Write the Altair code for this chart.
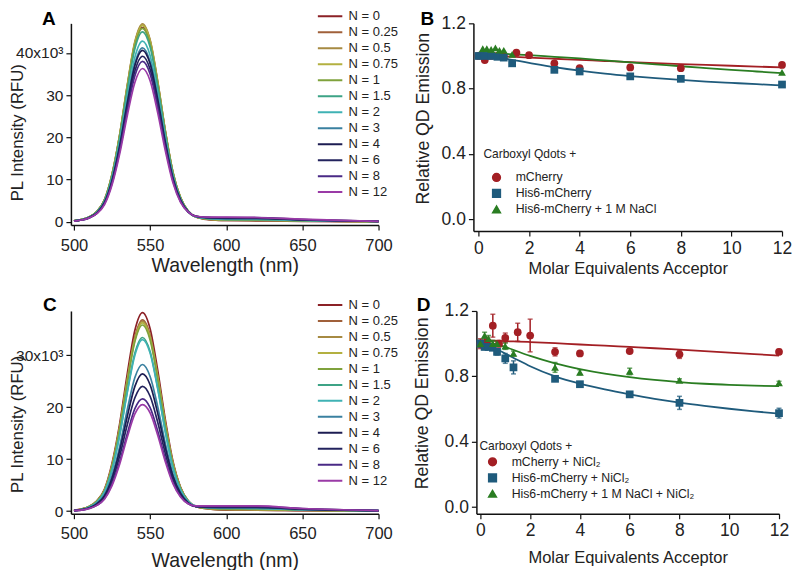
import altair as alt
import pandas as pd

FONT = "Liberation Sans"

# ---------------- spectra (panels A and C), intensities in units of 10^3 RFU
wavelength = [500, 505, 510, 515, 520, 525, 530, 535, 540, 545, 550, 555,
              560, 565, 570, 575, 580, 590, 600, 620, 650, 700]
n_labels = ["N = 0", "N = 0.25", "N = 0.5", "N = 0.75", "N = 1", "N = 1.5",
            "N = 2", "N = 3", "N = 4", "N = 6", "N = 8", "N = 12"]
spec_colors = ["#8b2126", "#a0603a", "#a68a42", "#b3b040", "#7fa23c", "#3da386",
               "#3fb2b4", "#3a80a0", "#1c1c52", "#23235e", "#4a2a86", "#9a3aa6"]

a_n0 = [0.2, 0.5, 1.1, 2.4, 5.1, 11.0, 20.2, 31.7, 41.9, 46.0, 42.3, 32.7, 21.2, 11.5, 5.6, 2.4, 1.1, 0.4, 0.3, 0.2, 0.1, 0.0]
a_n025 = [0.2, 0.5, 1.1, 2.4, 5.1, 11.2, 20.5, 32.2, 42.4, 46.6, 42.9, 33.1, 21.5, 11.7, 5.7, 2.5, 1.1, 0.5, 0.3, 0.3, 0.2, 0.0]
a_n05 = [0.2, 0.5, 1.1, 2.4, 5.2, 11.3, 20.6, 32.4, 42.7, 46.9, 43.1, 33.3, 21.6, 11.8, 5.7, 2.5, 1.1, 0.5, 0.4, 0.3, 0.2, 0.0]
a_n075 = [0.2, 0.5, 1.1, 2.4, 5.1, 11.2, 20.5, 32.1, 42.3, 46.5, 42.8, 33.0, 21.4, 11.7, 5.7, 2.5, 1.2, 0.6, 0.4, 0.4, 0.2, 0.0]
a_n1 = [0.2, 0.5, 1.1, 2.4, 5.0, 11.0, 20.2, 31.6, 41.7, 45.8, 42.1, 32.5, 21.1, 11.5, 5.6, 2.5, 1.2, 0.6, 0.5, 0.4, 0.2, 0.0]
a_n15 = [0.2, 0.5, 1.1, 2.3, 5.0, 10.8, 19.8, 31.1, 41.0, 45.0, 41.4, 32.0, 20.8, 11.3, 5.5, 2.5, 1.2, 0.7, 0.5, 0.5, 0.3, 0.1]
a_n2 = [0.2, 0.4, 1.0, 2.2, 4.7, 10.3, 18.8, 29.5, 39.0, 42.8, 39.4, 30.4, 19.8, 10.8, 5.3, 2.4, 1.2, 0.7, 0.6, 0.6, 0.3, 0.1]
a_n3 = [0.2, 0.4, 1.0, 2.1, 4.5, 9.9, 18.1, 28.4, 37.5, 41.2, 37.9, 29.3, 19.0, 10.4, 5.1, 2.3, 1.2, 0.8, 0.7, 0.7, 0.4, 0.1]
a_n4 = [0.2, 0.4, 1.0, 2.1, 4.5, 9.7, 17.9, 28.0, 37.0, 40.6, 37.4, 28.9, 18.8, 10.3, 5.1, 2.4, 1.3, 0.9, 0.8, 0.8, 0.4, 0.1]
a_n6 = [0.2, 0.4, 0.9, 2.0, 4.3, 9.4, 17.2, 27.1, 35.7, 39.2, 36.1, 27.9, 18.1, 9.9, 4.9, 2.3, 1.3, 1.0, 0.9, 0.9, 0.5, 0.1]
a_n8 = [0.2, 0.4, 0.9, 2.0, 4.2, 9.1, 16.7, 26.2, 34.6, 38.0, 35.0, 27.0, 17.6, 9.7, 4.8, 2.3, 1.3, 1.0, 1.0, 1.0, 0.5, 0.1]
a_n12 = [0.1, 0.4, 0.9, 1.9, 4.0, 8.7, 16.0, 25.1, 33.0, 36.3, 33.4, 25.8, 16.8, 9.2, 4.6, 2.3, 1.3, 1.1, 1.1, 1.0, 0.6, 0.1]

c_n0 = [0.2, 0.4, 0.9, 2.0, 4.2, 9.2, 16.8, 26.4, 34.8, 38.2, 35.1, 27.1, 17.6, 9.6, 4.6, 2.0, 0.9, 0.4, 0.2, 0.2, 0.1, 0.0]
c_n025 = [0.1, 0.4, 0.9, 1.9, 4.0, 8.8, 16.2, 25.4, 33.5, 36.8, 33.9, 26.1, 17.0, 9.2, 4.5, 1.9, 0.9, 0.4, 0.3, 0.2, 0.1, 0.0]
c_n05 = [0.1, 0.4, 0.9, 1.9, 4.0, 8.8, 16.1, 25.2, 33.2, 36.5, 33.6, 25.9, 16.8, 9.2, 4.5, 1.9, 0.9, 0.4, 0.3, 0.3, 0.2, 0.0]
c_n075 = [0.1, 0.4, 0.9, 1.9, 4.0, 8.7, 15.9, 25.0, 32.9, 36.2, 33.3, 25.7, 16.7, 9.1, 4.4, 2.0, 0.9, 0.5, 0.4, 0.3, 0.2, 0.0]
c_n1 = [0.1, 0.4, 0.9, 1.9, 3.9, 8.6, 15.8, 24.7, 32.6, 35.8, 32.9, 25.4, 16.5, 9.0, 4.4, 2.0, 0.9, 0.5, 0.4, 0.4, 0.2, 0.0]
c_n15 = [0.1, 0.3, 0.8, 1.7, 3.7, 8.0, 14.7, 23.0, 30.4, 33.4, 30.7, 23.7, 15.4, 8.4, 4.1, 1.9, 0.9, 0.6, 0.5, 0.5, 0.3, 0.1]
c_n2 = [0.1, 0.3, 0.8, 1.7, 3.6, 7.9, 14.5, 22.8, 30.0, 33.0, 30.4, 23.5, 15.2, 8.3, 4.1, 1.9, 1.0, 0.6, 0.6, 0.5, 0.3, 0.1]
c_n3 = [0.1, 0.3, 0.7, 1.5, 3.1, 6.8, 12.4, 19.5, 25.7, 28.2, 25.9, 20.1, 13.0, 7.1, 3.5, 1.7, 0.9, 0.7, 0.6, 0.6, 0.3, 0.1]
c_n4 = [0.1, 0.3, 0.6, 1.4, 2.9, 6.3, 11.6, 18.2, 24.0, 26.4, 24.3, 18.8, 12.2, 6.7, 3.4, 1.6, 0.9, 0.7, 0.7, 0.7, 0.4, 0.1]
c_n6 = [0.1, 0.2, 0.6, 1.2, 2.6, 5.8, 10.6, 16.6, 21.8, 24.0, 22.1, 17.1, 11.1, 6.1, 3.1, 1.5, 0.9, 0.8, 0.8, 0.8, 0.4, 0.1]
c_n8 = [0.1, 0.2, 0.5, 1.1, 2.4, 5.2, 9.5, 14.9, 19.7, 21.6, 19.9, 15.4, 10.0, 5.5, 2.8, 1.4, 0.9, 0.9, 0.9, 0.9, 0.5, 0.1]
c_n12 = [0.1, 0.2, 0.5, 1.1, 2.3, 4.9, 9.0, 14.2, 18.7, 20.5, 18.9, 14.6, 9.5, 5.3, 2.7, 1.4, 1.0, 1.0, 1.0, 1.0, 0.5, 0.1]

spectra_a = [a_n0, a_n025, a_n05, a_n075, a_n1, a_n15, a_n2, a_n3, a_n4, a_n6, a_n8, a_n12]
spectra_c = [c_n0, c_n025, c_n05, c_n075, c_n1, c_n15, c_n2, c_n3, c_n4, c_n6, c_n8, c_n12]

# ---------------- titrations (panels B and D)
series_b = ["mCherry", "His6-mCherry", "His6-mCherry + 1 M NaCl"]
series_d = ["mCherry + NiCl\u2082", "His6-mCherry + NiCl\u2082", "His6-mCherry + 1 M NaCl + NiCl\u2082"]
series_colors = ["#a31f24", "#1f5b7c", "#2a7d22"]
series_shapes = ["circle", "square", "triangle-up"]

b_red_x = [0, 0.25, 0.5, 0.75, 1, 1.5, 2, 3, 4, 6, 8, 12]
b_red_y = [1.0, 0.975, 1.0, 1.0, 0.995, 1.02, 1.005, 0.955, 0.925, 0.93, 0.925, 0.945]
b_blue_x = [0, 0.25, 0.5, 0.75, 1, 1.33, 3, 4, 6, 8, 12]
b_blue_y = [1.0, 1.0, 1.0, 0.995, 0.99, 0.955, 0.915, 0.905, 0.875, 0.86, 0.825]
b_green_x = [0.17, 0.33, 0.5, 0.67, 0.83, 1, 1.33, 12]
b_green_y = [1.045, 1.045, 1.04, 1.05, 1.035, 1.035, 1.01, 0.9]

b_fit_x = [0, 1, 2, 3, 4, 5, 6, 7, 8, 9, 10, 11, 12]
b_red_fit = [1.005, 0.998, 0.99, 0.983, 0.976, 0.969, 0.962, 0.956, 0.95, 0.945, 0.94, 0.935, 0.93]
b_blue_fit = [1.0, 0.985, 0.958, 0.932, 0.91, 0.892, 0.877, 0.864, 0.853, 0.843, 0.835, 0.827, 0.82]
b_green_fit = [1.02, 1.013, 1.005, 0.995, 0.985, 0.973, 0.961, 0.949, 0.937, 0.926, 0.915, 0.905, 0.895]

d_red_x = [0, 0.25, 0.5, 0.75, 1, 1.5, 2, 3, 4, 6, 8, 12]
d_red_y = [1.0, 1.01, 1.11, 1.0, 1.035, 1.07, 1.05, 0.95, 0.94, 0.955, 0.935, 0.95]
d_red_err = [0.03, 0.03, 0.07, 0.02, 0.03, 0.055, 0.1, 0.025, 0.005, 0.01, 0.025, 0.015]
d_blue_x = [0, 0.17, 0.33, 0.5, 0.67, 1, 1.33, 3, 4, 6, 8, 12]
d_blue_y = [1.0, 0.98, 0.98, 0.975, 0.95, 0.91, 0.855, 0.785, 0.752, 0.69, 0.638, 0.575]
d_blue_err = [0.02, 0.015, 0.015, 0.015, 0.02, 0.03, 0.04, 0.01, 0.01, 0.015, 0.04, 0.03]
d_green_x = [0, 0.17, 0.33, 0.5, 0.67, 1, 1.33, 3, 4, 6, 8, 12]
d_green_y = [1.0, 1.05, 1.03, 1.0, 1.0, 0.985, 0.94, 0.855, 0.825, 0.83, 0.775, 0.76]
d_green_err = [0.02, 0.02, 0.02, 0.02, 0.015, 0.02, 0.015, 0.03, 0.015, 0.02, 0.01, 0.01]

d_fit_x = [0, 0.5, 1, 1.5, 2, 3, 4, 5, 6, 7, 8, 9, 10, 11, 12]
d_red_fit = [1.02, 1.018, 1.015, 1.013, 1.01, 1.003, 0.995, 0.988, 0.98, 0.972, 0.963, 0.954, 0.945, 0.936, 0.927]
d_blue_fit = [1.0, 0.975, 0.94, 0.9, 0.862, 0.8, 0.755, 0.72, 0.69, 0.663, 0.64, 0.62, 0.602, 0.586, 0.572]
d_green_fit = [1.01, 1.0, 0.98, 0.952, 0.925, 0.88, 0.845, 0.817, 0.795, 0.778, 0.765, 0.755, 0.748, 0.743, 0.74]


def letter_layer(letter, dx, dy):
    return alt.Chart(pd.DataFrame({"t": [letter]})).mark_text(
        font=FONT, fontSize=19, fontWeight="bold", align="center", baseline="middle", color="black"
    ).encode(text="t:N", x=alt.value(dx), y=alt.value(dy))


def spec_df(arrays):
    rows = []
    for k, (lab, arr) in enumerate(zip(n_labels, arrays)):
        for w, v in zip(wavelength, arr):
            rows.append({"wl": w, "I": v, "N": lab, "k": k})
    return pd.DataFrame(rows)


def spectrum_panel(df, letter, ydom, yvals, toplabel, height, ldx, ldy, lx, ly, ty, xtp):
    label_expr = "datum.value == %d ? '%dx10\u00b3' : datum.label" % (toplabel, toplabel)
    lines = alt.Chart(df).mark_line(interpolate="monotone", strokeWidth=1.7).encode(
        x=alt.X("wl:Q", scale=alt.Scale(domain=[498, 700], nice=False, zero=False),
                axis=alt.Axis(values=[500, 550, 600, 650, 700], title="Wavelength (nm)",
                              labelFontSize=16.5, titleFontSize=19.5, labelPadding=7, titlePadding=xtp)),
        y=alt.Y("I:Q", scale=alt.Scale(domain=ydom, nice=False, zero=False),
                axis=alt.Axis(values=yvals, title="PL Intensity (RFU)", labelExpr=label_expr,
                              labelFontSize=15.5, titleFontSize=16.8, labelPadding=3,
                              titleX=-44, titleY=ty)),
        color=alt.Color("N:N", scale=alt.Scale(domain=n_labels, range=spec_colors),
                        legend=alt.Legend(orient="none", legendX=lx, legendY=ly, title=None,
                                          symbolType="stroke", symbolSize=600, symbolStrokeWidth=2,
                                          clipHeight=16, rowPadding=0, labelFontSize=13, labelFont=FONT,
                                          labelColor="#222222", labelOffset=5)),
        order=alt.Order("k:Q"),
    )
    return alt.layer(lines, letter_layer(letter, ldx, ldy)).properties(width=308, height=height)


def titration_panel(series, reds, blues, greens, fits, fit_x, letter, ydom, xdom, width, height,
                    ldx, ldy, lx, ly, ltp, lrow, tx, ty, xtp):
    pts = []
    for name, (xs, ys, errs) in zip(series, [reds, blues, greens]):
        for i, (xv, yv) in enumerate(zip(xs, ys)):
            e = errs[i] if errs else 0
            pts.append({"x": xv, "y": yv, "lo": yv - e, "hi": yv + e, "s": name})
    pts = pd.DataFrame(pts)
    fl = []
    for name, fy in zip(series, fits):
        for xv, yv in zip(fit_x, fy):
            fl.append({"x": xv, "y": yv, "s": name})
    fl = pd.DataFrame(fl)

    xs = alt.Scale(domain=xdom, nice=False, zero=False)
    ys = alt.Scale(domain=ydom, nice=False, zero=False)
    cs = alt.Scale(domain=series, range=series_colors)
    shs = alt.Scale(domain=series, range=series_shapes)
    xax = alt.Axis(values=[0, 2, 4, 6, 8, 10, 12], title="Molar Equivalents Acceptor",
                   labelFontSize=17.5, titleFontSize=16.5, labelPadding=3, titlePadding=xtp)
    yax = alt.Axis(values=[0, 0.2, 0.4, 0.6, 0.8, 1.0, 1.2], format=".1f", title="Relative QD Emission",
                   labelFontSize=17.5, titleFontSize=17.7, labelPadding=3, titleX=tx, titleY=ty)
    leg = alt.Legend(orient="none", legendX=lx, legendY=ly, title="Carboxyl Qdots +",
                     titleFontWeight="normal", titleFontSize=12, titleFont=FONT, titleColor="#222222",
                     titlePadding=ltp, labelFontSize=12.3, labelFont=FONT, labelColor="#222222",
                     labelLimit=400, symbolOpacity=1, symbolOffset=7, labelOffset=13, symbolSize=60,
                     clipHeight=lrow, rowPadding=0)

    lines = alt.Chart(fl).mark_line(interpolate="monotone", strokeWidth=1.8).encode(
        x=alt.X("x:Q", scale=xs, axis=xax), y=alt.Y("y:Q", scale=ys, axis=yax),
        color=alt.Color("s:N", scale=cs, legend=leg), detail="s:N")
    layers = [lines]
    if (pts["hi"] - pts["lo"]).abs().sum() > 0:
        bars = alt.Chart(pts).mark_errorbar(ticks=True, thickness=1.5).encode(
            x=alt.X("x:Q", scale=xs), y=alt.Y("lo:Q", scale=ys, title="Relative QD Emission"), y2="hi:Q",
            color=alt.Color("s:N", scale=cs, legend=leg))
        layers.append(bars)
    points = alt.Chart(pts).mark_point(filled=True, size=60, opacity=1).encode(
        x=alt.X("x:Q", scale=xs), y=alt.Y("y:Q", scale=ys),
        color=alt.Color("s:N", scale=cs, legend=leg),
        shape=alt.Shape("s:N", scale=shs, legend=leg))
    layers.append(points)
    layers.append(letter_layer(letter, ldx, ldy))
    return alt.layer(*layers).properties(width=width, height=height)


panel_a = spectrum_panel(spec_df(spectra_a), "A", [-0.8, 47], [0, 10, 20, 30, 40], 40, 202,
                         -22, -4, 246, -15, 109, 3)
panel_c = spectrum_panel(spec_df(spectra_c), "C", [-0.5, 38.5], [0, 10, 20, 30], 30, 203,
                         -21, -6, 246, -14, 113, 9)

panel_b = titration_panel(series_b, (b_red_x, b_red_y, None), (b_blue_x, b_blue_y, None),
                          (b_green_x, b_green_y, None), [b_red_fit, b_blue_fit, b_green_fit], b_fit_x,
                          "B", [-0.073, 1.2], [-0.2, 12], 309, 208, -46, -4, 10, 126, 8.5, 15.5, -41, 95, 4)
panel_d = titration_panel(series_d, (d_red_x, d_red_y, d_red_err), (d_blue_x, d_blue_y, d_blue_err),
                          (d_green_x, d_green_y, d_green_err), [d_red_fit, d_blue_fit, d_green_fit], d_fit_x,
                          "D", [-0.04, 1.2], [-0.16, 12], 303, 203, -53, -6, 3, 130, 1, 16, -45, 92, 10)

top = alt.hconcat(panel_a, panel_b, spacing=15).resolve_scale(color="independent", shape="independent")
bottom = alt.hconcat(panel_c, panel_d, spacing=14).resolve_scale(color="independent", shape="independent")

chart = alt.vconcat(top, bottom, spacing=19).resolve_scale(color="independent", shape="independent").properties(
    padding={"left": 2, "top": 0, "right": 0, "bottom": 0}
).configure_view(stroke=None).configure_axis(
    grid=False, domainColor="#111111", tickColor="#111111", labelColor="#222222", titleColor="#222222",
    labelFont=FONT, titleFont=FONT, titleFontWeight="normal", labelFlush=False,
    tickSize=5, domainWidth=1.5, tickWidth=1.2
)

chart.save("out.html", embed_options={"renderer": "svg", "actions": False})
